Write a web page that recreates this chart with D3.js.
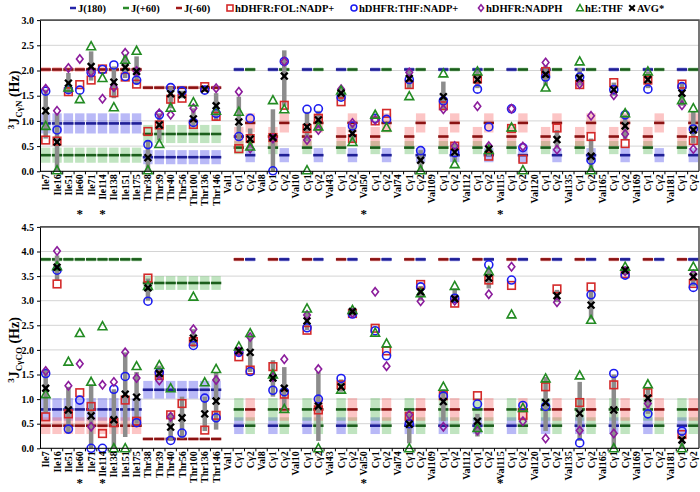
<!DOCTYPE html>
<html><head><meta charset="utf-8">
<script src="https://cdn.jsdelivr.net/npm/d3@7"></script>
<style>
body{margin:0;background:#fff}
text{font-family:"Liberation Serif","Times New Roman",serif;font-weight:bold;fill:#000}
</style>
</head><body><svg id="c" width="700" height="492"></svg>
<script>
// ---------- categories ----------
const categories = ["Ile7","Ile16","Ile51","Ile60","Ile71","Ile114","Ile138","Ile151","Ile175",
 "Thr38","Thr39","Thr40","Thr56","Thr100","Thr136","Thr146",
 "Val1","Cγ1","Cγ2","Val8","Cγ1","Cγ2","Val10","Cγ1","Cγ2","Val43","Cγ1","Cγ2",
 "Val50","Cγ1","Cγ2","Val74","Cγ1","Cγ2","Val109","Cγ1","Cγ2","Val112","Cγ1","Cγ2",
 "Val115","Cγ1","Cγ2","Val120","Cγ1","Cγ2","Val135","Cγ1","Cγ2","Val165","Cγ1","Cγ2",
 "Val169","Cγ1","Cγ2","Val181","Cγ1","Cγ2"];
const starred = ["Ile60","Ile114","Val50","Val115"];
const _ = null;

// ---------- top panel: 3J CγN ----------
const topFOL   = [0.62,0.60,1.58,1.72,1.81,2.03,1.56,1.87,1.73, 0.79,0.92,1.43,1.45,0.93,1.68,1.09,
 _,0.45,0.65, _,0.67,1.31, _,0.85,1.05, _,1.38,0.65, _,1.00,1.15, _,1.72,_, _,1.30,0.50, _,1.83,0.30,
 _,0.85,0.24, _,1.98,0.86, _,1.72,0.69, _,1.76,0.55, _,1.81,_, _,1.73,0.61];
const topTHF   = [1.59,0.82,1.62,1.61,1.96,2.02,2.11,1.88,1.81, 0.53,1.12,1.66,1.59,0.97,1.61,1.15,
 _,0.69,1.05, _,0.01,2.18, _,1.23,1.24, _,1.47,0.90, _,1.05,1.03, _,1.82,0.41, _,1.40,0.37, _,1.63,0.88,
 _,1.24,0.47, _,1.87,_, _,1.87,0.22, _,1.62,1.12, _,1.63,_, _,1.68,0.84];
const topNADPH = [1.64,1.20,2.05,2.23,1.97,1.44,1.67,2.35,1.99, _,1.15,1.12,_,1.25,_,1.65,
 _,1.58,0.45, _,0.65,2.18, _,0.62,0.82, _,1.63,0.96, _,1.02,_, _,1.96,_, _,1.23,0.50, _,1.29,0.50,
 _,1.24,0.49, _,2.16,0.43, _,1.73,1.10, _,1.51,0.74, _,_,_, _,1.31,0.44];
const topETHF  = [0.90,0.02,1.66,1.43,2.48,1.85,1.27,2.21,2.39, 0.02,0.54,1.26,_,1.37,_,1.20,
 _,1.18,0.49, _,1.41,1.23, _,0.02,0.89, _,1.60,0.58, _,1.12,0.87, _,1.49,0.02, _,1.94,0.14, _,1.98,0.42,
 _,0.87,0.02, _,1.66,_, _,2.18,0.02, _,_,1.15, _,1.98,_, _,1.41,1.25];
const topAVG   = [1.20,0.58,1.75,_,2.08,_,1.77,2.06,1.98, 0.27,0.92,1.54,1.52,1.04,1.63,1.30,
 _,0.98,0.64, _,0.67,1.89, _,0.88,1.02, _,1.55,0.75, _,_,_, _,1.84,0.22, _,1.48,0.38, _,1.82,0.44,
 _,_,_, _,1.92,0.63, _,1.85,0.30, _,1.62,0.90, _,1.82,_, _,1.55,0.82];
const topLo    = [0.65,0.00,1.55,_,1.80,_,1.45,1.85,1.72, 0.00,0.62,1.25,1.45,0.90,1.58,1.00,
 _,0.62,0.45, _,0.00,1.30, _,0.60,0.85, _,1.40,0.58, _,_,_, _,1.65,0.00, _,1.22,0.18, _,1.65,0.30,
 _,_,_, _,1.70,0.45, _,1.70,0.00, _,1.50,0.62, _,1.65,_, _,1.30,0.55];
const topHi    = [1.62,1.15,1.95,_,2.38,_,2.08,2.30,2.28, 0.62,1.15,1.68,1.60,1.25,1.68,1.55,
 _,1.48,0.85, _,1.23,2.40, _,1.18,1.20, _,1.65,0.92, _,_,_, _,2.00,0.42, _,1.78,0.55, _,2.00,0.55,
 _,_,_, _,2.10,0.82, _,2.05,0.65, _,1.76,1.12, _,1.98,_, _,1.75,1.20];

// ---------- bottom panel: 3J CγCO ----------
const botFOL   = [0.64,3.34,0.70,1.13,0.85,0.30,0.52,0.98,0.55, 3.46,1.48,0.68,0.91,2.17,0.37,0.67,
 _,1.86,1.59, _,1.66,1.10, _,2.40,0.78, _,1.29,2.74, _,2.44,1.98, _,0.65,3.33, _,1.07,2.95, _,1.07,3.42,
 _,3.31,0.67, _,1.25,3.24, _,0.93,3.28, _,1.29,3.55, _,1.13,_, _,0.28,3.35];
const botTHF   = [1.52,3.62,0.39,0.98,0.00,0.00,1.20,1.46,0.52, 2.99,1.54,0.16,0.31,2.09,1.02,0.62,
 _,1.95,1.56, _,1.18,1.15, _,2.45,1.00, _,1.42,2.73, _,2.39,1.88, _,0.50,3.28, _,1.06,3.05, _,0.90,3.73,
 _,3.42,0.87, _,0.85,_, _,0.11,3.12, _,1.52,3.52, _,0.70,_, _,0.35,3.27];
const botNADPH = [1.57,4.01,1.27,1.72,0.44,1.29,1.35,1.95,1.43, _,1.38,0.64,_,2.42,_,1.39,
 _,1.97,2.26, _,1.45,1.81, _,2.71,1.61, _,_,2.75, _,3.18,1.67, _,0.68,2.99, _,0.44,3.00, _,0.36,3.13,
 _,3.69,0.55, _,0.20,2.97, _,0.36,_, _,0.30,3.60, _,0.91,_, _,_,3.54];
const botETHF  = [1.10,3.70,1.76,2.34,1.35,2.48,0.00,0.00,1.67, 3.30,1.69,1.22,_,3.08,1.34,1.61,
 _,2.07,2.34, _,1.50,0.80, _,2.84,0.00, _,1.19,2.81, _,2.35,2.13, _,0.00,3.15, _,1.25,3.30, _,0.41,3.60,
 _,2.72,0.82, _,1.42,_, _,1.48,2.61, _,0.00,3.69, _,1.30,_, _,0.00,3.69];
const botAVG   = [1.22,3.68,0.78,_,0.66,_,0.58,1.10,1.04, 3.26,1.52,0.43,0.62,2.24,0.70,0.96,
 _,1.98,1.95, _,1.43,1.22, _,2.59,0.86, _,1.25,2.78, _,_,_, _,0.49,3.18, _,0.95,3.04, _,0.55,3.46,
 _,_,_, _,0.93,3.10, _,0.71,2.91, _,0.78,3.62, _,1.02,_, _,0.17,3.49];
const botLo    = [0.72,3.42,0.30,_,0.00,_,0.00,0.23,0.50, 3.00,1.38,0.15,0.20,2.05,0.35,0.38,
 _,1.88,1.55, _,1.05,0.80, _,2.40,0.15, _,1.15,2.70, _,_,_, _,0.10,3.00, _,0.55,2.95, _,0.24,3.25,
 _,_,_, _,0.35,2.97, _,0.15,2.62, _,0.00,3.52, _,0.70,_, _,0.00,3.30];
const botHi    = [1.62,3.92,1.25,_,1.30,_,1.20,1.95,1.55, 3.45,1.68,0.72,1.05,2.42,1.05,1.55,
 _,2.05,2.30, _,1.79,1.65, _,2.75,1.55, _,1.40,2.85, _,_,_, _,0.70,3.30, _,1.20,3.25, _,0.70,3.65,
 _,_,_, _,1.45,3.22, _,1.35,3.20, _,1.50,3.70, _,1.25,_, _,0.30,3.60];

// ---------- Karplus reference values per residue type ----------
const refTypes = ["Ile","Thr","Cγ1","Cγ2"];
const topJ180 = [0.95,0.28,2.02,0.32], topJ180Band = [0.20,0.14,0.04,0.14];
const topJp60 = [0.32,0.74,0.47,2.02], topJp60Band = [0.15,0.18,0.13,0.04];
const topJm60 = [2.02,1.66,0.69,0.96], topJm60Band = [0.05,0.04,0.19,0.19];
const botJ180 = [0.79,1.19,0.46,3.84], botJ180Band = [0.23,0.18,0.17,0.04];
const botJp60 = [3.84,3.36,0.79,0.46], botJp60Band = [0.04,0.14,0.23,0.17];
const botJm60 = [0.46,0.19,3.84,0.79], botJm60Band = [0.17,0.03,0.04,0.23];

const yTicksTop = [0,0.5,1,1.5,2,2.5,3];
const yTicksBot = [0,0.5,1,1.5,2,2.5,3,3.5,4,4.5];

// ---------- styles ----------
const C = {j180:"#1f1f96", jp60:"#1b5e1b", jm60:"#8a1212",
  b180:"rgba(70,70,235,0.38)", bp60:"rgba(60,170,60,0.32)", bm60:"rgba(245,80,80,0.33)",
  fol:"#d42a2a", thf:"#1c1cf0", nadph:"#8b1c9c", ethf:"#228b22", avg:"#000", bar:"#8c8c8c"};

const svg = d3.select("#c");
const x = d3.scaleBand().domain(d3.range(categories.length)).range([40, 699]).padding(0);
const bw = x.bandwidth();
function typeIdx(lbl){ if(lbl.startsWith("Ile")) return 0; if(lbl.startsWith("Thr")) return 1;
  if(lbl==="Cγ1") return 2; if(lbl==="Cγ2") return 3; return -1; }

function panel(o){
  const y = d3.scaleLinear().domain([0, o.ymax]).range([o.y0, o.y1]);
  const g = svg.append("g");
  // grid
  g.selectAll(".grid").data(o.ticks).join("line")
    .attr("x1",40).attr("x2",699).attr("y1",d=>y(d)).attr("y2",d=>y(d))
    .attr("stroke","#d4d4d4").attr("stroke-width",1);
  // bands and lines
  const refs = [
    {v:o.J180, b:o.J180Band, c:C.j180, bc:C.b180},
    {v:o.Jp60, b:o.Jp60Band, c:C.jp60, bc:C.bp60},
    {v:o.Jm60, b:o.Jm60Band, c:C.jm60, bc:C.bm60}];
  const cells = categories.map((l,i)=>({i,t:typeIdx(l)})).filter(d=>d.t>=0);
  refs.forEach(r=>{
    g.selectAll(null).data(cells).join("rect")
      .attr("x",d=>x(d.i)+1).attr("width",bw-2)
      .attr("y",d=>y(r.v[d.t]+r.b[d.t])).attr("height",d=>y(r.v[d.t]-r.b[d.t])-y(r.v[d.t]+r.b[d.t]))
      .attr("fill",r.bc);
  });
  refs.forEach(r=>{
    g.selectAll(null).data(cells).join("line")
      .attr("x1",d=>x(d.i)+0.5).attr("x2",d=>x(d.i)+bw-0.5)
      .attr("y1",d=>y(r.v[d.t])).attr("y2",d=>y(r.v[d.t]))
      .attr("stroke",r.c).attr("stroke-width",2.6);
  });
  const idx = d3.range(categories.length);
  const cx = i => x(i)+bw/2;
  // gray bars
  g.selectAll(null).data(idx.filter(i=>o.lo[i]!=null)).join("line")
    .attr("x1",cx).attr("x2",cx).attr("y1",i=>y(o.lo[i])).attr("y2",i=>y(o.hi[i]))
    .attr("stroke",C.bar).attr("stroke-width",4.5);
  // markers
  const sq = idx.filter(i=>o.fol[i]!=null);
  g.selectAll(null).data(sq).join("rect")
    .attr("x",i=>cx(i)-3.8).attr("y",i=>y(o.fol[i])-3.8).attr("width",7.6).attr("height",7.6)
    .attr("fill","none").attr("stroke",C.fol).attr("stroke-width",1.6);
  g.selectAll(null).data(idx.filter(i=>o.thf[i]!=null)).join("circle")
    .attr("cx",cx).attr("cy",i=>y(o.thf[i])).attr("r",4)
    .attr("fill","none").attr("stroke",C.thf).attr("stroke-width",1.6);
  g.selectAll(null).data(idx.filter(i=>o.nadph[i]!=null)).join("path")
    .attr("d",i=>{const X=cx(i),Y=y(o.nadph[i]);return `M${X},${Y-4.2}L${X+3.3},${Y}L${X},${Y+4.2}L${X-3.3},${Y}Z`;})
    .attr("fill","none").attr("stroke",C.nadph).attr("stroke-width",1.6);
  g.selectAll(null).data(idx.filter(i=>o.ethf[i]!=null)).join("path")
    .attr("d",i=>{const X=cx(i),Y=y(o.ethf[i]);return `M${X},${Y-4.6}L${X+4.4},${Y+3.4}L${X-4.4},${Y+3.4}Z`;})
    .attr("fill","none").attr("stroke",C.ethf).attr("stroke-width",1.6);
  g.selectAll(null).data(idx.filter(i=>o.avg[i]!=null)).join("path")
    .attr("d",i=>{const X=cx(i),Y=y(o.avg[i]),s=3.4;return `M${X-s},${Y-s}L${X+s},${Y+s}M${X-s},${Y+s}L${X+s},${Y-s}`;})
    .attr("fill","none").attr("stroke",C.avg).attr("stroke-width",2.3);
  // frame: top & right
  g.append("path").attr("d",`M40,${o.y1}H699V${o.y0}`).attr("fill","none")
    .attr("stroke","#555").attr("stroke-width",1.6);
  // y axis
  const ya = g.append("g").attr("transform","translate(40,0)")
    .call(d3.axisLeft(y).tickValues(o.ticks).tickFormat(d3.format(".1f")).tickSize(3).tickSizeOuter(0));
  ya.select(".domain").attr("stroke","#000");
  ya.selectAll("text").attr("font-size",10).attr("x",-6);
  ya.selectAll(".tick line").attr("stroke","#000");
  // x axis
  g.append("line").attr("x1",40).attr("x2",699).attr("y1",o.y0).attr("y2",o.y0).attr("stroke","#000");
  g.selectAll(null).data(d3.range(1,categories.length)).join("line")
    .attr("x1",i=>x(i)).attr("x2",i=>x(i)).attr("y1",o.y0).attr("y2",o.y0+3).attr("stroke","#000");
  g.selectAll(null).data(idx).join("text")
    .attr("transform",i=>`translate(${cx(i)+3.5},${o.y0+3}) rotate(-90)`)
    .attr("text-anchor","end").attr("font-size",10).text(i=>categories[i]);
  g.selectAll(null).data(idx.filter(i=>starred.includes(categories[i]))).join("text")
    .attr("x",cx).attr("y",o.starY).attr("text-anchor","middle").attr("font-size",13).text("*");
  // y title
  const t = g.append("text").attr("transform",`translate(19,${o.titleY}) rotate(-90)`)
    .attr("text-anchor","middle").attr("font-size",14);
  t.append("tspan").attr("font-size",9).attr("dy",-5).text("3");
  t.append("tspan").attr("dy",5).text("J");
  t.append("tspan").attr("font-size",9).attr("dy",3).text(o.sub);
  t.append("tspan").attr("dy",-3).text(" (Hz)");
}

panel({ymax:3, y0:171.3, y1:20.1, ticks:yTicksTop, sub:"CγN", titleY:100, starY:218,
  fol:topFOL, thf:topTHF, nadph:topNADPH, ethf:topETHF, avg:topAVG, lo:topLo, hi:topHi,
  J180:topJ180,J180Band:topJ180Band,Jp60:topJp60,Jp60Band:topJp60Band,Jm60:topJm60,Jm60Band:topJm60Band});
panel({ymax:4.5, y0:448.3, y1:226.9, ticks:yTicksBot, sub:"CγCO", titleY:350, starY:487,
  fol:botFOL, thf:botTHF, nadph:botNADPH, ethf:botETHF, avg:botAVG, lo:botLo, hi:botHi,
  J180:botJ180,J180Band:botJ180Band,Jp60:botJp60,Jp60Band:botJp60Band,Jm60:botJm60,Jm60Band:botJm60Band});

// ---------- legend ----------
const legendLabels = ["J(180)","J(+60)","J(-60)","hDHFR:FOL:NADP+","hDHFR:THF:NADP+","hDHFR:NADPH","hE:THF","AVG*"];
const legendX = [73,126,179,230,354,481,580,632];
const legendKind = ["l180","lp60","lm60","sq","ci","di","tr","x"];
const lg = svg.append("g");
const ly = 8;
legendKind.forEach((k,i)=>{
  const X = legendX[i];
  if(k[0]==="l"){
    const col = k==="l180"?"#2525a8":k==="lp60"?"#2a8a2a":"#a01818";
    lg.append("line").attr("x1",X-3).attr("x2",X+3).attr("y1",ly).attr("y2",ly).attr("stroke",col).attr("stroke-width",2.5);
  } else if(k==="sq"){
    lg.append("rect").attr("x",X-3).attr("y",ly-3).attr("width",6).attr("height",6).attr("fill","none").attr("stroke",C.fol).attr("stroke-width",1.6);
  } else if(k==="ci"){
    lg.append("circle").attr("cx",X).attr("cy",ly).attr("r",3).attr("fill","none").attr("stroke",C.thf).attr("stroke-width",1.6);
  } else if(k==="di"){
    lg.append("path").attr("d",`M${X},${ly-3.3}L${X+2.6},${ly}L${X},${ly+3.3}L${X-2.6},${ly}Z`).attr("fill","none").attr("stroke",C.nadph).attr("stroke-width",1.5);
  } else if(k==="tr"){
    lg.append("path").attr("d",`M${X},${ly-3.5}L${X+3.4},${ly+2.7}L${X-3.4},${ly+2.7}Z`).attr("fill","none").attr("stroke",C.ethf).attr("stroke-width",1.5);
  } else {
    lg.append("path").attr("d",`M${X-2.8},${ly-2.8}L${X+2.8},${ly+2.8}M${X-2.8},${ly+2.8}L${X+2.8},${ly-2.8}`).attr("stroke","#000").attr("stroke-width",2);
  }
  lg.append("text").attr("x",X+5).attr("y",ly+3.6).attr("font-size",10.5).text(legendLabels[i]);
});
</script></body></html>
